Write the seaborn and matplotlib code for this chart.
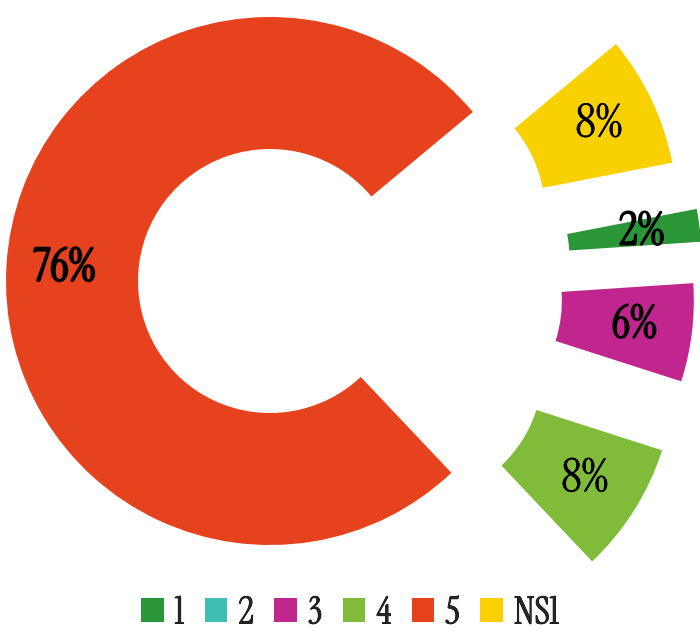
import matplotlib
matplotlib.use("Agg")
import matplotlib.pyplot as plt
import matplotlib.patheffects as pe
import seaborn as sns

# Дані діаграми
categories = ["1", "2", "3", "4", "5", "NS1"]
shares = [2, 0, 6, 8, 76, 8]
colors = ["#2b9638", "#3fbfb2", "#c1268e", "#80bb3a", "#e6421e", "#f9d000"]

# Винесення сегментів (частка радіуса)
explode = [0.64, 0.6, 0.61, 0.63, 0.0, 0.6]
bold_labels = ["1", "3", "5"]

sns.set_theme(style="white")
plt.rcParams["font.family"] = ["Instrument Serif", "Liberation Serif", "DejaVu Serif"]

W, H = 700, 634
CX, CY, R = 270, 281, 264  # центр і радіус кільця в пікселях

fig = plt.figure(figsize=(W / 100, H / 100), dpi=100)
ax = fig.add_axes([0, 0, 1, 1])


def pct_label(p):
    return f"{p:.0f}%" if p > 0.5 else ""


wedges, _, autotexts = ax.pie(
    shares,
    colors=colors,
    explode=explode,
    startangle=11,
    counterclock=False,
    radius=1,
    autopct=pct_label,
    pctdistance=0.78,
    wedgeprops=dict(width=0.5, linewidth=0),
    textprops=dict(fontsize=33, color="black"),
)

for cat, t in zip(categories, autotexts):
    lw = 1.5 if cat == "5" else (1.1 if cat in bold_labels else 0.5)
    t.set_path_effects([pe.withStroke(linewidth=lw, foreground="black")])

ax.set_xlim(-CX / R, (W - CX) / R)
ax.set_ylim(-(H - CY) / R, CY / R)
ax.set_aspect("equal")
ax.axis("off")

leg = fig.legend(
    wedges,
    categories,
    loc="center",
    bbox_to_anchor=(0.5, 0.033),
    ncol=6,
    frameon=False,
    fontsize=27,
    handlelength=0.6,
    handleheight=0.6,
    handletextpad=0.3,
    columnspacing=0.55,
    borderpad=0,
)
for t in leg.get_texts():
    t.set_path_effects([pe.withStroke(linewidth=0.6, foreground="black")])

fig.savefig("out.png", dpi=100)
plt.close()
